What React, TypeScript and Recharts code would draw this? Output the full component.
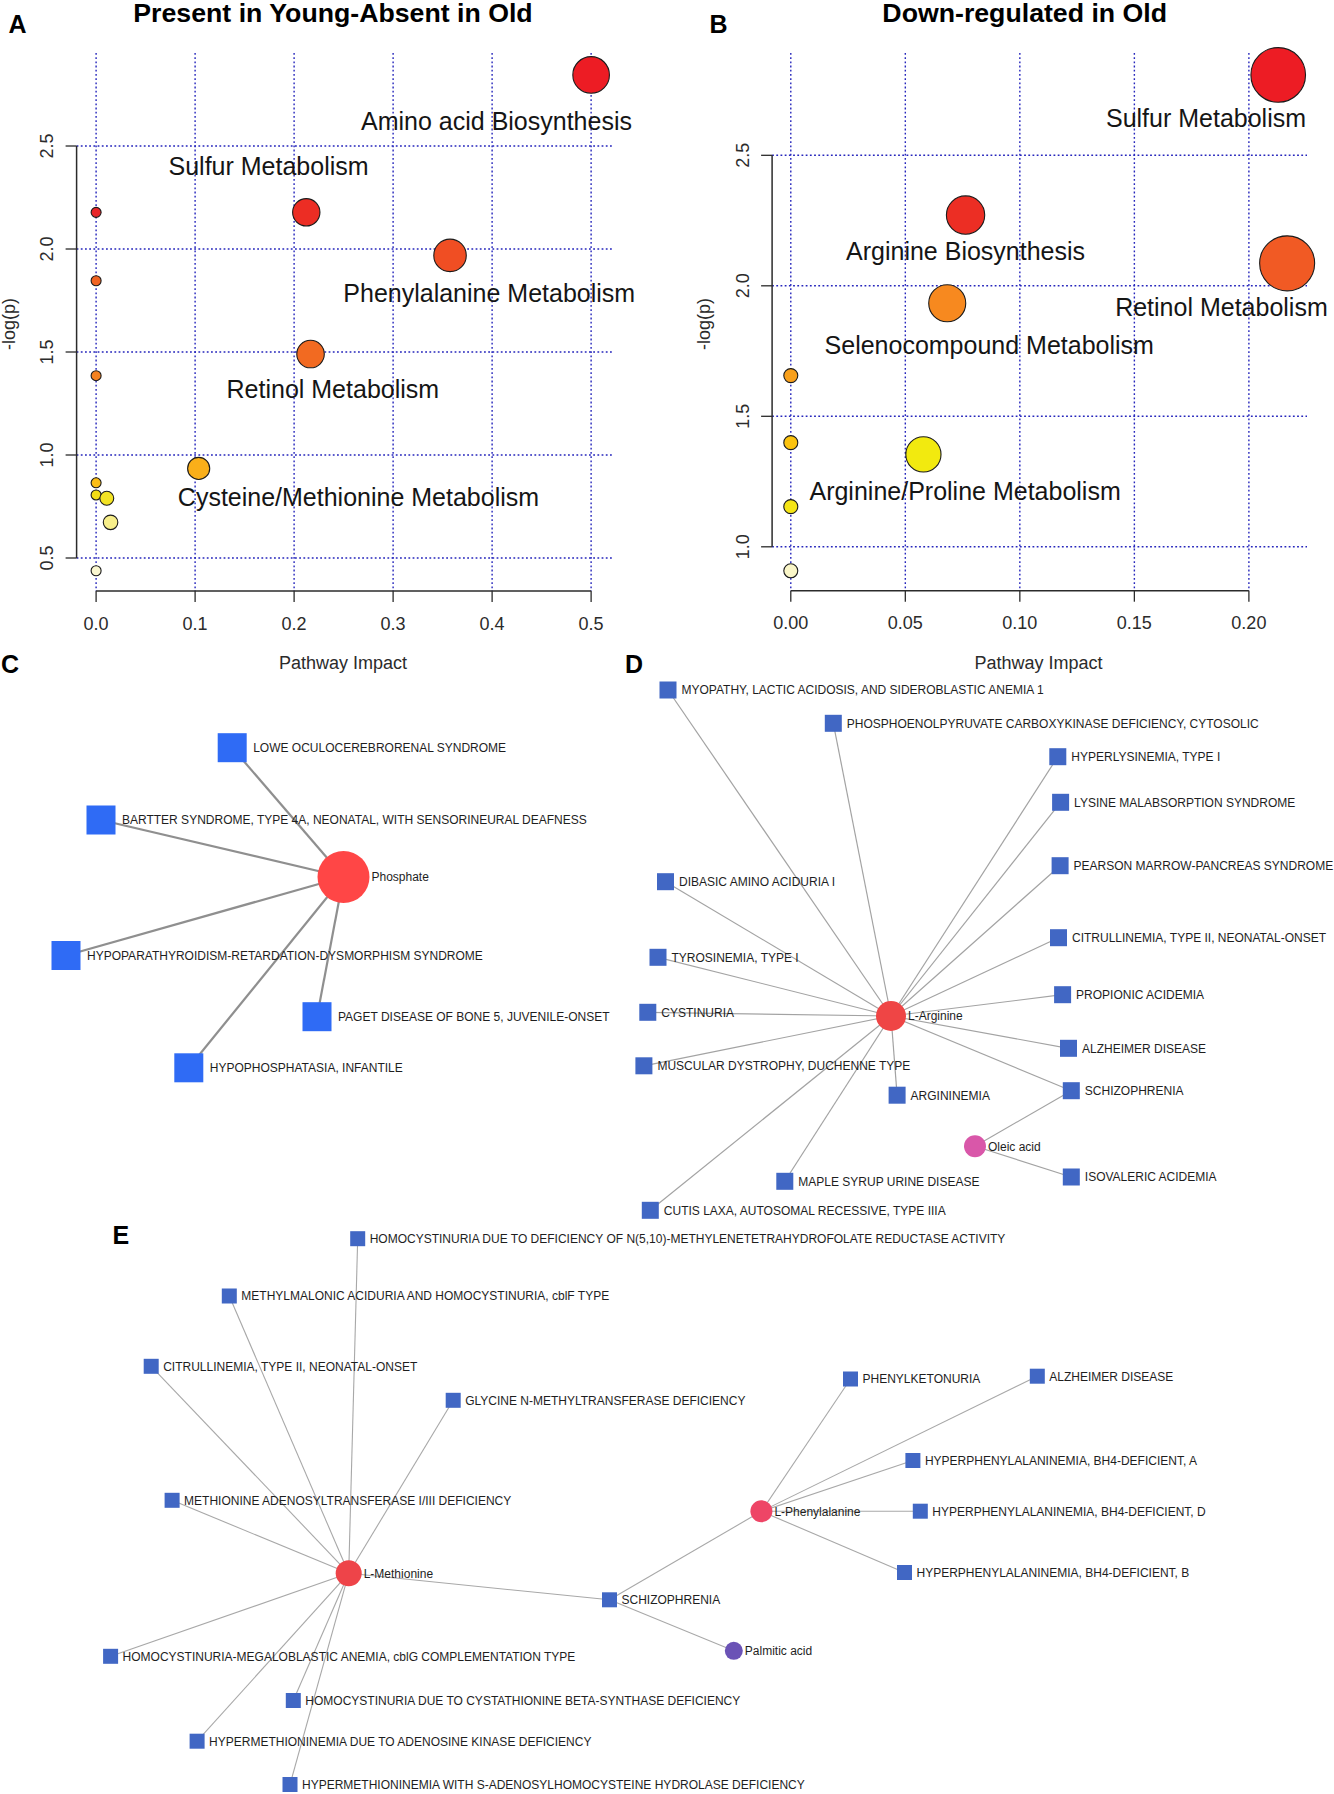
import React from "react";
import { CartesianGrid, ReferenceLine, Scatter, ScatterChart, XAxis, YAxis } from "recharts";

const FONT = "'Liberation Sans', Arial, Helvetica, sans-serif";

// ---- A: present in young, absent in old ----
const pathwayA = [
  "Amino acid Biosynthesis", "Sulfur Metabolism", null, null, "Phenylalanine Metabolism",
  "Retinol Metabolism", null, "Cysteine/Methionine Metabolism", null, null, null, null, null,
];
const impactA = [0.5, 0.2123, 0, 0, 0.3575, 0.2166, 0, 0.1036, 0, 0, 0.0108, 0.0146, 0];
const logpA = [2.845, 2.178, 2.178, 1.846, 1.969, 1.49, 1.385, 0.935, 0.865, 0.806, 0.79, 0.673, 0.438];
const xTicksA = [0, 0.1, 0.2, 0.3, 0.4, 0.5];
const yTicksA = [0.5, 1, 1.5, 2, 2.5];

// ---- B: down-regulated in old ----
const pathwayB = [
  "Sulfur Metabolism", "Arginine Biosynthesis", "Retinol Metabolism", "Selenocompound Metabolism",
  null, null, "Arginine/Proline Metabolism", null, null,
];
const impactB = [0.2128, 0.0763, 0.2167, 0.0683, 0, 0, 0.0579, 0, 0];
const logpB = [2.808, 2.271, 2.086, 1.933, 1.656, 1.399, 1.354, 1.154, 0.908];
const xTicksB = [0, 0.05, 0.1, 0.15, 0.2];
const yTicksB = [1, 1.5, 2, 2.5];

// heat colours, by rank of -log(p) (highest first)
const HEAT_A = [
  "#ED1C24", "#EC2D24", "#E8262A", "#F04E23", "#F06423", "#F26A21", "#F5821F",
  "#FAAF19", "#FBBD16", "#F4DE14", "#F3E324", "#F7EE8A", "#FAF7D0",
];
const HEAT_B = ["#ED1C24", "#EC2E24", "#F15A24", "#F7891F", "#F9A01B", "#FCC30F", "#F2EA0F", "#F5E516", "#FAF6C8"];

// where the pathway names sit relative to their bubble (px)
const TAG_A: Record<string, [number, number]> = {
  "Amino acid Biosynthesis": [-94.6, 45.7],
  "Sulfur Metabolism": [-37.7, -46.6],
  "Phenylalanine Metabolism": [39.2, 37.4],
  "Retinol Metabolism": [22.3, 35.3],
  "Cysteine/Methionine Metabolism": [159.8, 29],
};
const TAG_B: Record<string, [number, number]> = {
  "Sulfur Metabolism": [-72.2, 43.3],
  "Arginine Biosynthesis": [0, 35.7],
  "Retinol Metabolism": [-65.7, 44],
  "Selenocompound Metabolism": [42, 41.7],
  "Arginine/Proline Metabolism": [41.7, 36.4],
};

// ---- C / D / E: metabolite-disease networks (layout units) ----
const nodesC = [
  { id: "phosphate", type: "metabolite", label: "Phosphate", x: 343.5, y: 227 },
  { id: "lowe", type: "disease", label: "LOWE OCULOCEREBRORENAL SYNDROME", x: 232.2, y: 97.7 },
  { id: "bartter", type: "disease", label: "BARTTER SYNDROME, TYPE 4A, NEONATAL, WITH SENSORINEURAL DEAFNESS", x: 101, y: 170 },
  { id: "hrd", type: "disease", label: "HYPOPARATHYROIDISM-RETARDATION-DYSMORPHISM SYNDROME", x: 66, y: 305.5 },
  { id: "paget", type: "disease", label: "PAGET DISEASE OF BONE 5, JUVENILE-ONSET", x: 317, y: 366.7 },
  { id: "hypophos", type: "disease", label: "HYPOPHOSPHATASIA, INFANTILE", x: 188.8, y: 417.8 },
];
const edgesC = [
  ["phosphate", "lowe"], ["phosphate", "bartter"], ["phosphate", "hrd"], ["phosphate", "paget"], ["phosphate", "hypophos"],
];

const nodesD = [
  { id: "larg", type: "metabolite", label: "L-Arginine", x: 271, y: 366 },
  { id: "oleic", type: "metabolite", label: "Oleic acid", x: 355, y: 496.2 },
  { id: "myopathy", type: "disease", label: "MYOPATHY, LACTIC ACIDOSIS, AND SIDEROBLASTIC ANEMIA 1", x: 48, y: 40 },
  { id: "pepck", type: "disease", label: "PHOSPHOENOLPYRUVATE CARBOXYKINASE DEFICIENCY, CYTOSOLIC", x: 213.3, y: 73.3 },
  { id: "hyperlys", type: "disease", label: "HYPERLYSINEMIA, TYPE I", x: 437.8, y: 106.7 },
  { id: "lysine", type: "disease", label: "LYSINE MALABSORPTION SYNDROME", x: 440.6, y: 152.3 },
  { id: "pearson", type: "disease", label: "PEARSON MARROW-PANCREAS SYNDROME", x: 440.1, y: 215.7 },
  { id: "dibasic", type: "disease", label: "DIBASIC AMINO ACIDURIA I", x: 45.5, y: 231.7 },
  { id: "citrul", type: "disease", label: "CITRULLINEMIA, TYPE II, NEONATAL-ONSET", x: 438.5, y: 287.7 },
  { id: "tyros", type: "disease", label: "TYROSINEMIA, TYPE I", x: 38, y: 307.3 },
  { id: "propionic", type: "disease", label: "PROPIONIC ACIDEMIA", x: 442.6, y: 344.7 },
  { id: "cystinuria", type: "disease", label: "CYSTINURIA", x: 27.8, y: 362.3 },
  { id: "alz", type: "disease", label: "ALZHEIMER DISEASE", x: 448.5, y: 398.3 },
  { id: "muscular", type: "disease", label: "MUSCULAR DYSTROPHY, DUCHENNE TYPE", x: 23.9, y: 415.8 },
  { id: "schizo", type: "disease", label: "SCHIZOPHRENIA", x: 451.3, y: 440.7 },
  { id: "argininemia", type: "disease", label: "ARGININEMIA", x: 277.1, y: 445.2 },
  { id: "isovaleric", type: "disease", label: "ISOVALERIC ACIDEMIA", x: 451.3, y: 527 },
  { id: "maple", type: "disease", label: "MAPLE SYRUP URINE DISEASE", x: 164.8, y: 531.3 },
  { id: "cutis", type: "disease", label: "CUTIS LAXA, AUTOSOMAL RECESSIVE, TYPE IIIA", x: 30.3, y: 560.3 },
];
const edgesD = [
  ["larg", "myopathy"], ["larg", "pepck"], ["larg", "hyperlys"], ["larg", "lysine"], ["larg", "pearson"],
  ["larg", "dibasic"], ["larg", "citrul"], ["larg", "tyros"], ["larg", "propionic"], ["larg", "cystinuria"],
  ["larg", "alz"], ["larg", "muscular"], ["larg", "schizo"], ["larg", "argininemia"], ["larg", "maple"],
  ["larg", "cutis"], ["oleic", "schizo"], ["oleic", "isovaleric"],
];

const nodesE = [
  { id: "lmet", type: "metabolite", label: "L-Methionine", x: 348.7, y: 358.3 },
  { id: "lphe", type: "metabolite", label: "L-Phenylalanine", x: 761.4, y: 296.3 },
  { id: "palmitic", type: "metabolite", label: "Palmitic acid", x: 733.8, y: 435.8 },
  { id: "mthfr", type: "disease", label: "HOMOCYSTINURIA DUE TO DEFICIENCY OF N(5,10)-METHYLENETETRAHYDROFOLATE REDUCTASE ACTIVITY", x: 357.7, y: 23.7 },
  { id: "cblf", type: "disease", label: "METHYLMALONIC ACIDURIA AND HOMOCYSTINURIA, cblF TYPE", x: 229.3, y: 81 },
  { id: "citrulE", type: "disease", label: "CITRULLINEMIA, TYPE II, NEONATAL-ONSET", x: 151.2, y: 151.3 },
  { id: "gnmt", type: "disease", label: "GLYCINE N-METHYLTRANSFERASE DEFICIENCY", x: 453.2, y: 185.3 },
  { id: "mat", type: "disease", label: "METHIONINE ADENOSYLTRANSFERASE I/III DEFICIENCY", x: 172.1, y: 285.3 },
  { id: "schizoE", type: "disease", label: "SCHIZOPHRENIA", x: 609.5, y: 384.8 },
  { id: "cblg", type: "disease", label: "HOMOCYSTINURIA-MEGALOBLASTIC ANEMIA, cblG COMPLEMENTATION TYPE", x: 110.6, y: 441.3 },
  { id: "cbs", type: "disease", label: "HOMOCYSTINURIA DUE TO CYSTATHIONINE BETA-SYNTHASE DEFICIENCY", x: 293.3, y: 485.5 },
  { id: "adk", type: "disease", label: "HYPERMETHIONINEMIA DUE TO ADENOSINE KINASE DEFICIENCY", x: 197.1, y: 526.2 },
  { id: "ahcy", type: "disease", label: "HYPERMETHIONINEMIA WITH S-ADENOSYLHOMOCYSTEINE HYDROLASE DEFICIENCY", x: 290, y: 569.5 },
  { id: "pku", type: "disease", label: "PHENYLKETONURIA", x: 850.5, y: 164 },
  { id: "alzE", type: "disease", label: "ALZHEIMER DISEASE", x: 1037.3, y: 161.2 },
  { id: "hpaA", type: "disease", label: "HYPERPHENYLALANINEMIA, BH4-DEFICIENT, A", x: 912.9, y: 245.5 },
  { id: "hpaD", type: "disease", label: "HYPERPHENYLALANINEMIA, BH4-DEFICIENT, D", x: 920.3, y: 296.2 },
  { id: "hpaB", type: "disease", label: "HYPERPHENYLALANINEMIA, BH4-DEFICIENT, B", x: 904.5, y: 357.5 },
];
const edgesE = [
  ["lmet", "mthfr"], ["lmet", "cblf"], ["lmet", "citrulE"], ["lmet", "gnmt"], ["lmet", "mat"],
  ["lmet", "schizoE"], ["lmet", "cblg"], ["lmet", "cbs"], ["lmet", "adk"], ["lmet", "ahcy"],
  ["schizoE", "lphe"], ["schizoE", "palmitic"],
  ["lphe", "pku"], ["lphe", "alzE"], ["lphe", "hpaA"], ["lphe", "hpaD"], ["lphe", "hpaB"],
];

// node looks
const MET_STYLE: Record<string, { r: number; fill: string }> = {
  phosphate: { r: 26, fill: "#FF4646" },
  larg: { r: 15, fill: "#EF4545" },
  oleic: { r: 11, fill: "#D957A9" },
  lmet: { r: 13, fill: "#EE4449" },
  lphe: { r: 11, fill: "#EE4566" },
  palmitic: { r: 9, fill: "#6B53B6" },
};
const LOOK_C = { square: 29, fill: "#2F6BF5", edge: "#8F8F8F", edgeWidth: 2.2, font: 12, gap: 6.5 };
const LOOK_D = { square: 17, fill: "#4167C4", edge: "#A3A3A3", edgeWidth: 1.2, font: 12, gap: 5 };
const LOOK_E = { square: 15, fill: "#4167C4", edge: "#A8A8A8", edgeWidth: 1.1, font: 12, gap: 4.5 };

const INK = "#2b2b2b";
const GRID = "#2626BC";

function buildPoints(names: any[], impact: number[], logp: number[]) {
  const order = logp.map((_, i) => i).sort((a, b) => logp[b] - logp[a]);
  const rank: number[] = [];
  order.forEach((idx, r) => (rank[idx] = r));
  return names.map((name, i) => ({ name, impact: impact[i], logp: logp[i], rank: rank[i] }));
}

function BubblePanel(p: any) {
  const pts = buildPoints(p.names, p.impact, p.logp);
  const tagged = pts.filter((d) => d.name);
  const xMax = Math.max(...p.impact);

  const Bubble = (s: any) => {
    const r = p.rMin + (p.rMax - p.rMin) * Math.sqrt(s.payload.impact / xMax);
    return <circle cx={s.cx} cy={s.cy} r={r} fill={p.heat[s.payload.rank]} stroke="#1b1b1b" strokeWidth={1.1} />;
  };
  const Tag = (s: any) => {
    const [dx, dy] = p.tags[s.payload.name];
    return (
      <text x={s.cx + dx} y={s.cy + dy + 9} textAnchor="middle" fontSize={25} fontFamily={FONT} fill="#151515">
        {s.payload.name}
      </text>
    );
  };
  const XTick = (t: any) => (
    <text x={t.x} y={t.y + 27.5} textAnchor="middle" fontSize={18} fontFamily={FONT} fill={INK}>
      {t.payload.value.toFixed(p.xDigits)}
    </text>
  );
  const YTick = (t: any) => {
    const bx = t.x - p.yLabelShift + 6.4;
    return (
      <text x={bx} y={t.y} transform={`rotate(-90 ${bx} ${t.y})`} textAnchor="middle" fontSize={18} fontFamily={FONT} fill={INK}>
        {t.payload.value.toFixed(1)}
      </text>
    );
  };
  const tickLine = { stroke: INK, strokeWidth: 1.3 };
  const x0 = p.xDomain[0];
  const y0 = p.yDomain[0];

  return (
    <ScatterChart width={667} height={700} margin={p.margin}>
      <CartesianGrid stroke={GRID} strokeDasharray="1.8 2.4" strokeWidth={1.4} verticalValues={p.xTicks} horizontalValues={p.yTicks} />
      <XAxis
        type="number" dataKey="impact" domain={p.xDomain} ticks={p.xTicks} interval={0}
        height={p.xAxisHeight} axisLine={false} tickLine={tickLine} tickSize={11} tickMargin={0} tick={XTick}
      />
      <YAxis
        type="number" dataKey="logp" domain={p.yDomain} ticks={p.yTicks} interval={0}
        width={p.yAxisWidth} axisLine={false} tickLine={tickLine} tickSize={11} tickMargin={0} tick={YTick}
      />
      <ReferenceLine
        segment={[{ x: p.xTicks[0], y: y0 }, { x: p.xTicks[p.xTicks.length - 1], y: y0 }]}
        stroke={INK} strokeWidth={1.5} ifOverflow="visible"
      />
      <ReferenceLine
        segment={[{ x: x0, y: p.yTicks[0] }, { x: x0, y: p.yTicks[p.yTicks.length - 1] }]}
        stroke={INK} strokeWidth={1.5} ifOverflow="visible"
      />
      <Scatter data={pts} shape={Bubble} isAnimationActive={false} />
      <Scatter data={tagged} shape={Tag} isAnimationActive={false} />
    </ScatterChart>
  );
}

const NoDot = () => <g />;

function NetworkPanel({ nodes, edges, width, height, look }: any) {
  const byId: Record<string, any> = {};
  nodes.forEach((n: any) => (byId[n.id] = n));

  const Node = (s: any) => {
    const n = s.payload;
    const ty = s.cy + look.font * 0.36;
    const textProps = { fontSize: look.font, fontFamily: FONT, fill: "#1e1e1e" };
    if (n.type === "metabolite") {
      const m = MET_STYLE[n.id];
      return (
        <g>
          <circle cx={s.cx} cy={s.cy} r={m.r} fill={m.fill} />
          <text x={s.cx + m.r + 2} y={ty} {...textProps}>{n.label}</text>
        </g>
      );
    }
    const h = look.square / 2;
    return (
      <g>
        <rect x={s.cx - h} y={s.cy - h} width={look.square} height={look.square} fill={look.fill} />
        <text x={s.cx + h + look.gap} y={ty} {...textProps}>{n.label}</text>
      </g>
    );
  };

  return (
    <ScatterChart width={width} height={height} margin={{ top: 0, right: 0, bottom: 0, left: 0 }}>
      <XAxis type="number" dataKey="x" domain={[0, width]} hide />
      <YAxis type="number" dataKey="y" domain={[0, height]} reversed hide />
      {edges.map(([a, b]: string[], i: number) => (
        <Scatter
          key={`e${i}`}
          data={[byId[a], byId[b]]}
          line={{ stroke: look.edge, strokeWidth: look.edgeWidth }}
          shape={NoDot}
          isAnimationActive={false}
        />
      ))}
      <Scatter data={nodes} shape={Node} isAnimationActive={false} />
    </ScatterChart>
  );
}

const place = (left: number, top: number) => ({ position: "absolute" as const, left, top });

export default function App() {
  const letter = { fontSize: 25, fontWeight: 700, fontFamily: FONT, fill: "#000" };
  const title = { fontSize: 26.7, fontWeight: 700, fontFamily: FONT, fill: "#000", textAnchor: "middle" as const };
  const axisTitle = { fontSize: 18, fontFamily: FONT, fill: INK, textAnchor: "middle" as const };
  return (
    <div style={{ position: "absolute", left: 0, top: 0, width: 1334, height: 1794, background: "#fff", overflow: "hidden" }}>
      <div style={place(0, 0)}>
        <BubblePanel
          names={pathwayA} impact={impactA} logp={logpA} heat={HEAT_A} tags={TAG_A}
          xTicks={xTicksA} yTicks={yTicksA} xDigits={1}
          xDomain={[-0.0197, 0.5216]} yDomain={[0.3398, 2.9515]}
          margin={{ top: 53, right: 54.5, left: 0, bottom: 0 }} yAxisWidth={76.6} xAxisHeight={109}
          rMin={5} rMax={18.3} yLabelShift={19}
        />
      </div>
      <div style={place(667, 0)}>
        <BubblePanel
          names={pathwayB} impact={impactB} logp={logpB} heat={HEAT_B} tags={TAG_B}
          xTicks={xTicksB} yTicks={yTicksB} xDigits={2}
          xDomain={[-0.00816, 0.22537]} yDomain={[0.8318, 2.892]}
          margin={{ top: 53, right: 27, left: 0, bottom: 0 }} yAxisWidth={105.1} xAxisHeight={109.3}
          rMin={7} rMax={27.5} yLabelShift={18}
        />
      </div>
      <div style={place(0, 650)}>
        <NetworkPanel nodes={nodesC} edges={edgesC} width={620} height={470} look={LOOK_C} />
      </div>
      <div style={place(620, 650)}>
        <NetworkPanel nodes={nodesD} edges={edgesD} width={714} height={590} look={LOOK_D} />
      </div>
      <div style={place(0, 1215)}>
        <NetworkPanel nodes={nodesE} edges={edgesE} width={1334} height={579} look={LOOK_E} />
      </div>
      <svg width={1334} height={1794} style={{ position: "absolute", left: 0, top: 0, pointerEvents: "none" }}>
        <text x={333} y={22} {...title}>Present in Young-Absent in Old</text>
        <text x={1024.7} y={22} {...title}>Down-regulated in Old</text>
        <text x={8.5} y={32.7} {...letter}>A</text>
        <text x={709.5} y={32.7} {...letter}>B</text>
        <text x={1} y={672.7} {...letter}>C</text>
        <text x={625} y={672.7} {...letter}>D</text>
        <text x={112.5} y={1244} {...letter}>E</text>
        <text x={343} y={669} {...axisTitle}>Pathway Impact</text>
        <text x={1038.6} y={669} {...axisTitle}>Pathway Impact</text>
        <text x={15} y={324} transform="rotate(-90 15 324)" {...axisTitle}>-log(p)</text>
        <text x={710} y={324} transform="rotate(-90 710 324)" {...axisTitle}>-log(p)</text>
      </svg>
    </div>
  );
}
